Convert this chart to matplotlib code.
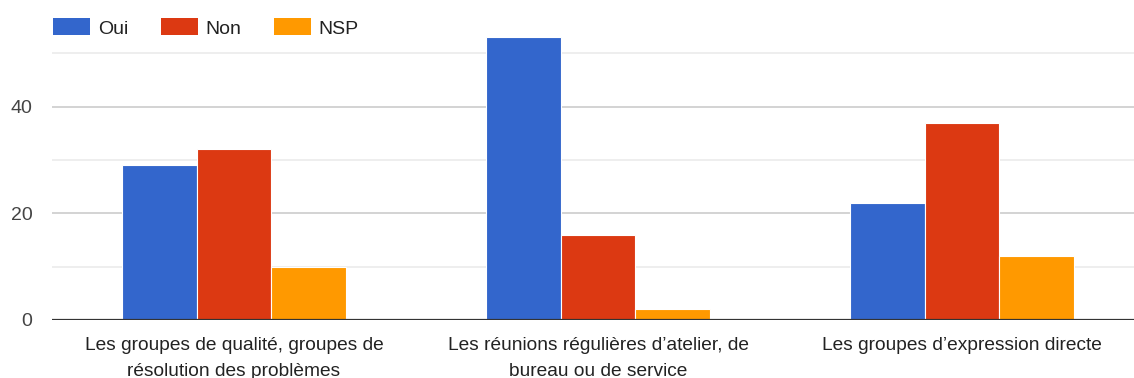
import matplotlib
matplotlib.use("Agg")
import matplotlib.pyplot as plt
import numpy as np
from matplotlib.patches import Patch

categories = [
    "Les groupes de qualité, groupes de\nrésolution des problèmes",
    "Les réunions régulières d\u2019atelier, de\nbureau ou de service",
    "Les groupes d\u2019expression directe",
]
series_names = ["Oui", "Non", "NSP"]
oui = [29, 53, 22]
non = [32, 16, 37]
nsp = [10, 2, 12]
colors = ["#3366cc", "#dc3912", "#ff9900"]
y_ticks = [0, 20, 40]

plt.rcParams["font.family"] = ["Liberation Sans", "DejaVu Sans"]

fig = plt.figure(figsize=(11.34, 3.78), dpi=100)
W, H = 1134, 378
ax = fig.add_axes([52 / W, 58 / H, (1134 - 52) / W, 320 / H])

x = np.arange(len(categories))
bw = 0.206
for i, (vals, c, name) in enumerate(zip([oui, non, nsp], colors, series_names)):
    ax.bar(x + (i - 1) * bw, vals, width=bw, color=c, edgecolor="white",
           linewidth=0.8, zorder=3, label=name)

ax.set_xlim(-0.5, -0.5 + (1134 - 52) / 364)
ax.set_ylim(0, 60)

# gridlines
for v in [10, 30, 50]:
    ax.axhline(v, color="#ebebeb", linewidth=1.2, zorder=1)
for v in [20, 40]:
    ax.axhline(v, color="#cccccc", linewidth=1.2, zorder=1)
ax.axhline(0, color="#333333", linewidth=1.6, zorder=4)

for s in ax.spines.values():
    s.set_visible(False)

ax.set_yticks(y_ticks)
ax.set_yticklabels([str(t) for t in y_ticks], fontsize=14, color="#444444")
ax.tick_params(axis="y", length=0, pad=14)
ax.set_xticks(x)
ax.set_xticklabels(categories, fontsize=13.8, color="#222222", linespacing=1.7)
ax.tick_params(axis="x", length=0, pad=12)

handles = [Patch(facecolor=c, edgecolor="none") for c in colors]
leg = fig.legend(handles, series_names, loc="center left",
                 bbox_to_anchor=(53 / W, 1 - 28 / H), ncol=3, frameon=False,
                 fontsize=14, handlelength=1.9, handleheight=0.95,
                 handletextpad=0.42, columnspacing=1.65, borderaxespad=0,
                 borderpad=0)
for t in leg.get_texts():
    t.set_color("#222222")

fig.savefig("out.png", dpi=100, facecolor="white")
